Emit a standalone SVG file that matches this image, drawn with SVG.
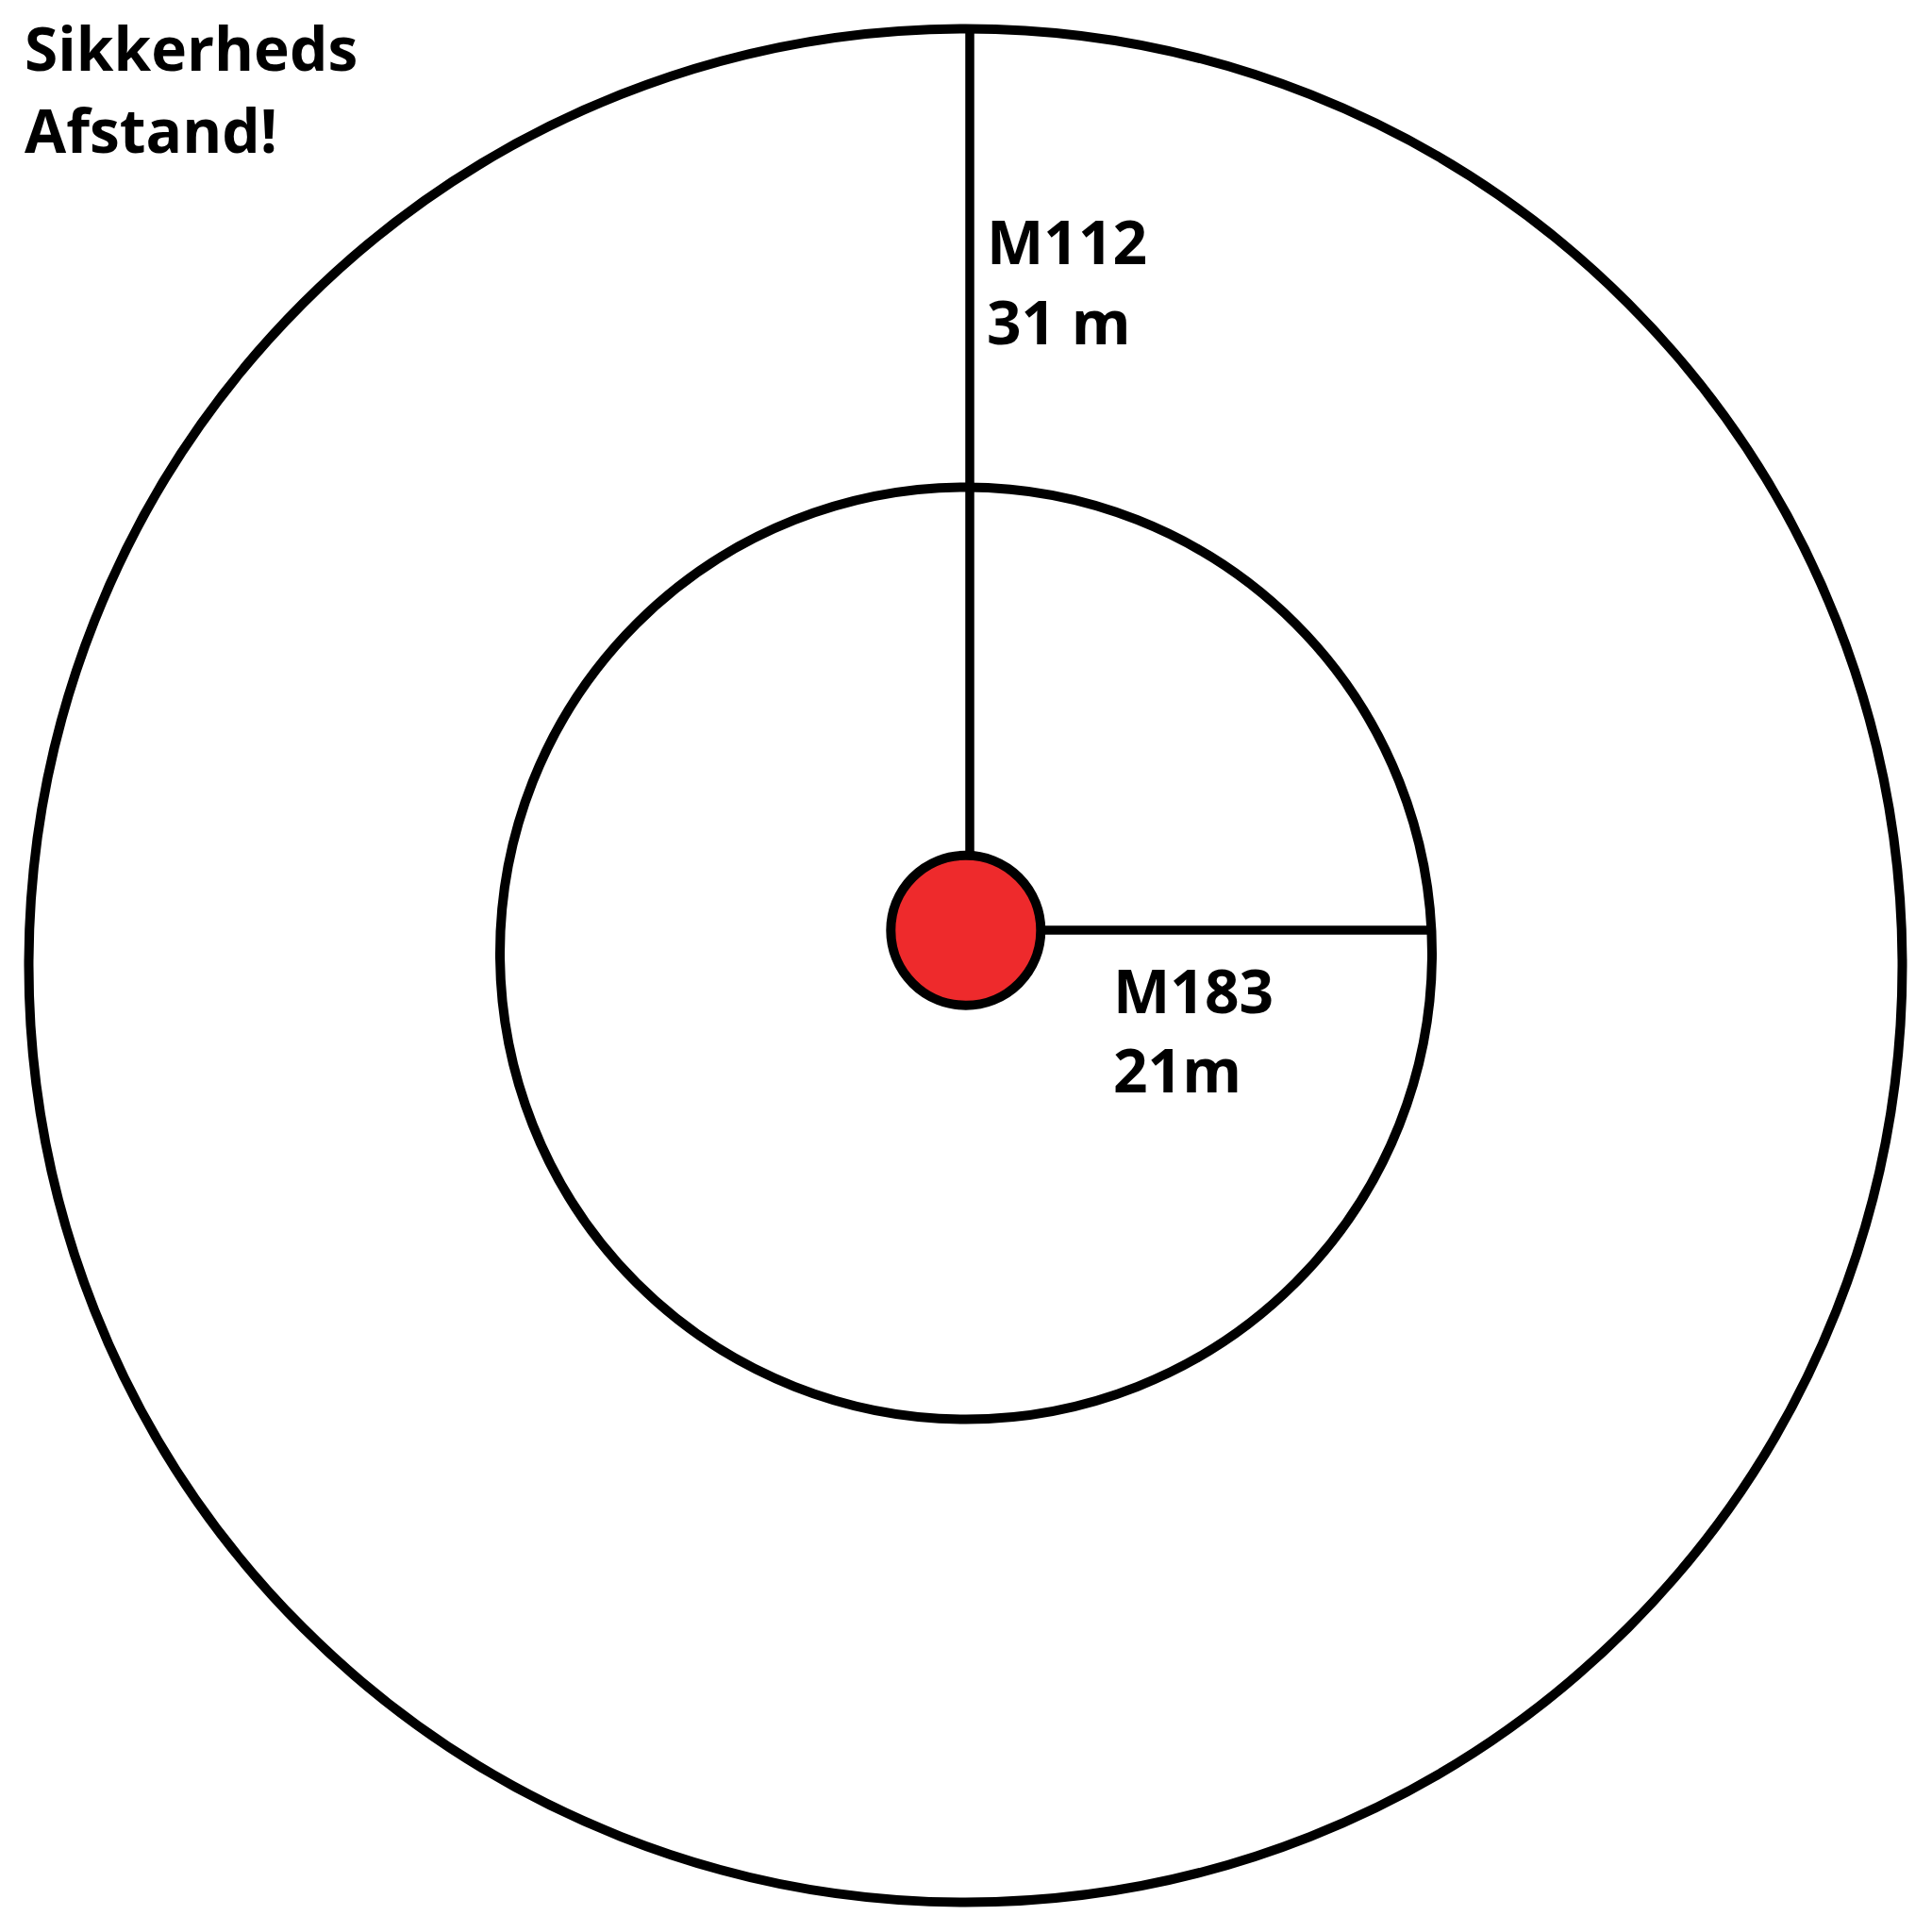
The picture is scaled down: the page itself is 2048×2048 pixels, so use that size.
<svg xmlns="http://www.w3.org/2000/svg" width="2048" height="2048" viewBox="0 0 2048 2048">
<style>
.ring{fill:none;stroke:#000;stroke-width:10}
.conn{stroke:#000;stroke-width:9.5;fill:none}
.lbl{font-family:"Open Sans","Liberation Sans",sans-serif;font-weight:700;font-size:64px;fill:#000}
</style>
<rect width="2048" height="2048" fill="#fff"/>
<g id="outer-zone"><circle class="ring" cx="1023.5" cy="1023.5" r="993"/></g>
<g id="inner-zone"><circle class="ring" cx="1024" cy="1010.5" r="494"/></g>
<g id="connectors">
<line class="conn" x1="1028" y1="30" x2="1028" y2="905"/>
<line class="conn" x1="1100" y1="986" x2="1516" y2="986"/>
</g>
<g id="center"><circle cx="1023.8" cy="986.2" r="79.5" fill="#ee2a2c" stroke="#000" stroke-width="10"/></g>
<g id="title">
<text class="lbl" x="26" y="75">Sikkerheds</text>
<text class="lbl" x="26" y="162">Afstand!</text>
</g>
<g id="label-m112">
<text class="lbl" x="1046" y="280">M112</text>
<text class="lbl" x="1046" y="365">31 m</text>
</g>
<g id="label-m183">
<text class="lbl" x="1180" y="1074">M183</text>
<text class="lbl" x="1180" y="1158">21m</text>
</g>
</svg>
